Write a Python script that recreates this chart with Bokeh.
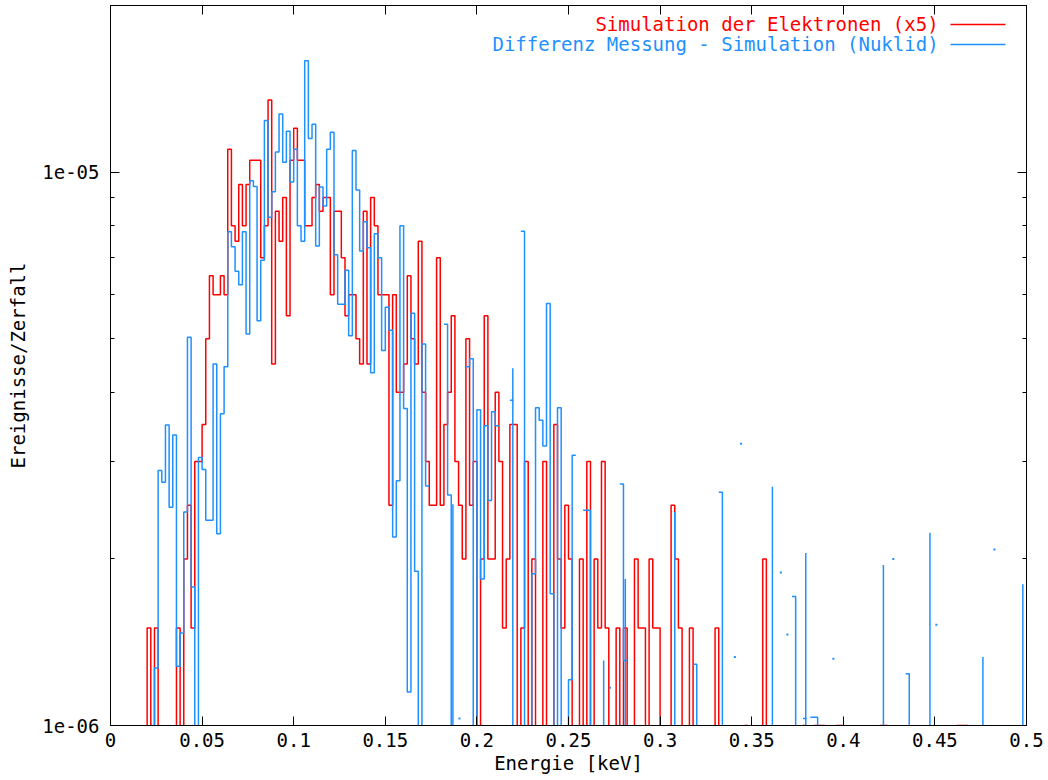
import numpy as np
from bokeh.plotting import figure
from bokeh.models import (Range1d, FixedTicker, CustomJSTickFormatter, LinearAxis,
                          LogAxis, Label)
from bokeh.embed import file_html
from bokeh.resources import INLINE

# ---------------- data (values in units of 1e-6 events/decay) ----------------
BIN_WIDTH = 0.002  # keV

# Simulation der Elektronen (x5), one value per 0.002 keV bin starting at 0
red_e6 = [
    0, 0, 0, 0, 0, 0, 0, 0, 0, 0,
    1.5, 0, 1.5, 0, 0, 0, 0, 0, 1.5, 0,
    2.0, 2.5, 1.5, 3.0, 3.0, 3.5, 5.0, 6.5, 6.0, 6.0,
    6.5, 6.0, 11.0, 8.0, 7.5, 9.5, 8.0, 9.5, 10.5, 10.5,
    10.5, 7.0, 8.0, 13.5, 4.5, 8.5, 7.5, 9.0, 5.5, 10.5,
    12.0, 10.5, 10.5, 8.0, 8.0, 9.0, 9.5, 8.5, 9.0, 9.0,
    6.0, 8.5, 8.5, 7.0, 5.5, 6.0, 6.0, 5.0, 4.5, 8.5,
    4.5, 9.0, 8.0, 6.0, 6.0, 6.0, 2.5, 6.0, 4.0, 4.0,
    4.5, 6.5, 5.0, 4.5, 7.5, 4.0, 3.0, 2.5, 2.5, 7.0,
    2.5, 3.5, 4.0, 5.5, 3.0, 2.5, 2.0, 5.0, 2.5, 3.0,
    0, 2.0, 5.5, 2.0, 2.0, 4.0, 3.0, 1.5, 2.0, 3.5,
    3.5, 0, 1.5, 3.0, 0, 2.0, 0, 0, 3.0, 0,
    0, 3.5, 2.0, 1.5, 2.5, 2.0, 0, 0, 2.0, 0,
    3.0, 0, 2.0, 1.5, 3.0, 1.5, 0, 0, 1.5, 0,
    1.5, 0, 0, 2.0, 1.5, 1.5, 0, 2.0, 1.5, 1.5,
    0, 0, 0, 2.5, 2.0, 1.5, 0, 0, 1.5, 0,
    0, 0, 0, 0, 0, 1.5, 0, 0, 0, 0,
    0, 0, 0, 1.0, 0, 0, 0, 0, 2.0, 0,
    0, 0, 0, 0, 0, 0, 0, 0, 0, 1.0,
    0, 0, 1.0, 1.0, 1.0, 0, 0, 0, 1.0, 1.0,
    0, 0, 0, 0, 0, 0, 0, 0, 0, 0,
    1.0, 1.0, 0, 0, 0, 0, 0, 0, 0, 0,
    0, 0, 0, 0, 0, 0, 0, 0, 0, 0,
    0, 1.0, 1.0, 1.0, 0, 0, 0, 0, 0, 0,
    0, 0, 0, 0, 0, 0, 0, 0, 0, 0,
]

# Differenz Messung - Simulation (Nuklid); None = negative (not drawable on log axis)
N = None
blue_e6 = [
    N, N, N, N, N, N, N, N, N, N,
    N, 0, 1.27, 2.89, 2.75, 3.49, 2.48, 3.35, 1.28, 1.47,
    2.43, 5.03, 1.78, 0, 3.05, 2.9, 2.35, 2.35, 4.5, 2.22,
    3.66, 4.45, 7.8, 7.33, 6.62, 6.26, 7.8, 5.1, 9.65, 9.42,
    5.39, 6.93, 12.4, 8.29, 9.21, 10.87, 12.74, 10.42, 11.85, 9.6,
    11.0, 8.0, 7.5, 15.9, 11.5, 12.2, 7.35, 9.4, 8.68, 11.0,
    11.8, 7.09, 5.77, 5.77, 6.65, 5.06, 10.94, 9.28, 7.2, 8.13,
    7.3, 4.34, 7.74, 7.0, 4.76, 5.7, 5.18, 2.19, 2.77, 8.0,
    3.74, 1.15, 5.56, 1.9, 0, 4.89, 2.71, N, N, N,
    N, 5.31, 2.61, 0, N, N, N, 4.45, 4.6, 0,
    3.72, 1.84, 3.48, 2.55, 3.69, 3.48, N, N, N, 3.87,
    N, N, 7.82, 0, 0, 1.88, 3.75, 3.56, 3.2, 5.79,
    1.73, 0, 3.75, 0, 0, 1.21, 3.08, N, N, 2.45,
    2.45, 0, N, N, N, N, N, N, N, 2.73,
    1.31, N, N, N, N, N, N, N, N, N,
    N, N, N, N, N, N, N, N, N, 1.29,
    0, N, N, N, N, N, 2.64, 0, N, N,
    N, N, N, N, N, N, N, N, N, N,
    N, N, N, N, N, N, 1.71, 0, N, 1.03,
    N, 1.035, 1.035, 0, N, N, N, N, N, N,
    N, N, N, N, N, N, N, N, N, N,
    N, N, N, N, N, N, N, 1.24, 0, N,
    N, N, N, N, N, N, N, N, N, N,
    N, N, N, N, N, N, N, N, N, N,
    N, N, N, N, N, N, N, N, N, N,
]

# isolated vertical strokes of the difference curve (energy, top value)
blue_spike_energy = [0.1869, 0.2196, 0.2692, 0.2810, 0.3080, 0.3613, 0.3795,
                     0.4219, 0.4473, 0.4762, 0.4980]
blue_spike_top_e6 = [2.51, 4.42, 1.31, 1.84, 2.43, 2.70, 2.05, 1.95, 2.23, 1.33, 1.80]

# isolated single points of the difference curve
blue_dot_energy = [0.1905, 0.2726, 0.3408, 0.3442, 0.3659, 0.3695, 0.3946,
                   0.4273, 0.4508, 0.4825]
blue_dot_e6 = [1.03, 1.17, 1.33, 3.23, 1.89, 1.46, 1.32, 2.00, 1.52, 2.08]

x_ticks = [0, 0.05, 0.1, 0.15, 0.2, 0.25, 0.3, 0.35, 0.4, 0.45, 0.5]
y_ticks = [1e-6, 1e-5]
y_minor_ticks = [2e-6, 3e-6, 4e-6, 5e-6, 6e-6, 7e-6, 8e-6, 9e-6, 2e-5]

red_label = "Simulation der Elektronen (x5)"
blue_label = "Differenz Messung - Simulation (Nuklid)"

# ---------------- styling ----------------
RED = "#FF0000"
BLUE = "#1E90FF"
FONT = "DejaVu Sans Mono"
FS = "19px"
LW = 1.5
FLOOR = 1e-9
SCALE = 1e-6


def step_path(vals):
    xs, ys = [], []
    prev = False
    for i, v in enumerate(vals):
        if v is None:
            if prev:
                xs.append(np.nan)
                ys.append(np.nan)
            prev = False
            continue
        y = v * SCALE if v > 0 else FLOOR
        xs += [i * BIN_WIDTH, (i + 1) * BIN_WIDTH]
        ys += [y, y]
        prev = True
    return np.array(xs, dtype=float), np.array(ys, dtype=float)


p = figure(width=1048, height=780, y_axis_type="log",
           x_range=Range1d(0, 0.5), y_range=Range1d(1e-6, 2e-5),
           output_backend="svg", toolbar_location=None,
           min_border_left=110, min_border_right=22,
           min_border_top=5, min_border_bottom=55)
p.background_fill_color = "white"
p.border_fill_color = "white"
p.outline_line_color = "black"
p.outline_line_width = 1
p.grid.visible = False

rx, ry = step_path(red_e6)
p.line(rx, ry, line_color=RED, line_width=LW)

bx, by = step_path(blue_e6)
p.line(bx, by, line_color=BLUE, line_width=LW)

p.segment(x0=blue_spike_energy, x1=blue_spike_energy,
          y0=[FLOOR] * len(blue_spike_energy),
          y1=[v * SCALE for v in blue_spike_top_e6],
          line_color=BLUE, line_width=LW)
p.scatter(x=blue_dot_energy, y=[v * SCALE for v in blue_dot_e6],
          marker="square", size=2, fill_color=BLUE, line_color=None)

# ---------------- axes ----------------
xfmt = CustomJSTickFormatter(code="return String(Number(tick.toFixed(2)));")
yfmt = CustomJSTickFormatter(code="""
const e = Math.round(Math.log10(tick));
const a = Math.abs(e);
return '1e' + (e < 0 ? '-' : '+') + (a < 10 ? '0' + a : '' + a);
""")
empty = CustomJSTickFormatter(code="return '';")

xa = p.xaxis[0]
xa.ticker = FixedTicker(ticks=x_ticks)
xa.formatter = xfmt
xa.axis_label = "Energie [keV]"
ya = p.yaxis[0]
ya.ticker = FixedTicker(ticks=y_ticks, minor_ticks=y_minor_ticks)
ya.formatter = yfmt
ya.axis_label = "Ereignisse/Zerfall"

for ax in (xa, ya):
    ax.major_label_text_font = FONT
    ax.major_label_text_font_size = FS
    ax.major_label_text_color = "black"
    ax.axis_label_text_font = FONT
    ax.axis_label_text_font_size = FS
    ax.axis_label_text_font_style = "normal"
    ax.axis_label_text_color = "black"
    ax.major_tick_in = 9
    ax.major_tick_out = 0
    ax.minor_tick_in = 4
    ax.minor_tick_out = 0
    ax.axis_line_color = "black"
    ax.major_tick_line_color = "black"
    ax.minor_tick_line_color = "black"

xa.minor_tick_line_color = None
xa.major_label_standoff = 7
xa.axis_label_standoff = 2
ya.major_label_standoff = 11
ya.axis_label_standoff = 10

top = LinearAxis(ticker=FixedTicker(ticks=x_ticks), formatter=empty,
                 major_tick_in=9, major_tick_out=0, minor_tick_line_color=None,
                 major_label_standoff=0, axis_line_color="black")
p.add_layout(top, "above")
right = LogAxis(ticker=FixedTicker(ticks=y_ticks, minor_ticks=y_minor_ticks),
                formatter=empty, major_tick_in=9, major_tick_out=0,
                minor_tick_in=4, minor_tick_out=0, major_label_standoff=0,
                axis_line_color="black")
p.add_layout(right, "right")

# ---------------- legend (gnuplot style: text, then line sample) ----------------
leg_text_x = 0.452
leg_line_x0, leg_line_x1 = 0.4585, 0.4885
leg_y = [1.848e-5, 1.701e-5]
for lbl, col, yy in ((red_label, RED, leg_y[0]), (blue_label, BLUE, leg_y[1])):
    p.add_layout(Label(x=leg_text_x, y=yy, text=lbl, text_align="right",
                       text_baseline="middle", text_color=col, text_font=FONT,
                       text_font_size=FS))
p.segment(x0=[leg_line_x0] * 2, x1=[leg_line_x1] * 2, y0=leg_y, y1=leg_y,
          line_color=[RED, BLUE], line_width=LW)

open("out.html", "w").write(file_html(p, INLINE))
